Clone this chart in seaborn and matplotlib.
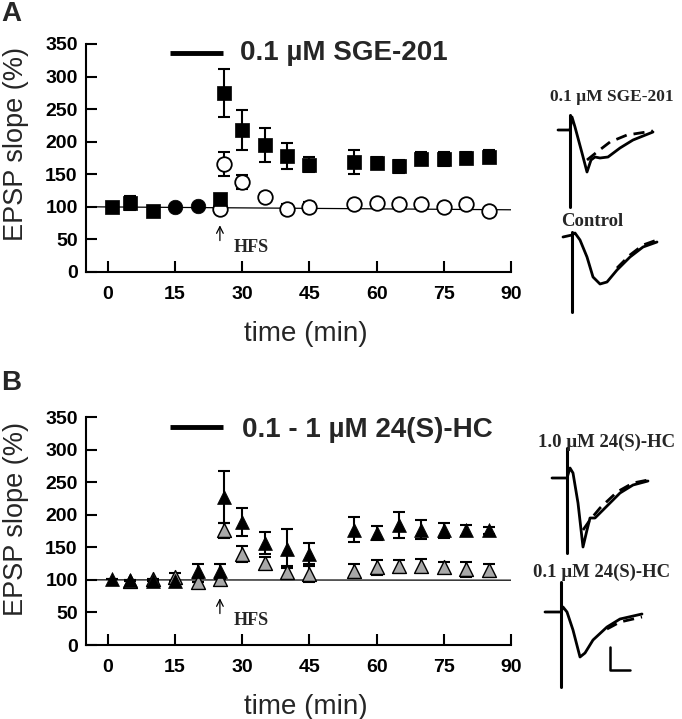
import numpy as np
import pandas as pd
import matplotlib
matplotlib.use("Agg")
import matplotlib.pyplot as plt
import seaborn as sns

# ---- panel A: 0.1 uM SGE-201 ----
sge_t = [1, 5, 10, 25, 26, 30, 35, 40, 45, 55, 60, 65, 70, 75, 80, 85]
sge_y = [100, 106, 94, 112, 275, 218, 195, 178, 165, 169, 168, 162, 174, 173, 175, 177]
sge_err = [0, 11, 0, 0, 37, 31, 26, 20, 12, 19, 9, 10, 10, 11, 9, 10]

ctrl_base_t = [15, 20]
ctrl_base_y = [100, 102]

ctrl_t = [25, 26, 30, 35, 40, 45, 55, 60, 65, 70, 75, 80, 85]
ctrl_y = [97, 166, 138, 115, 97, 100, 105, 106, 105, 104, 100, 104, 93]
ctrl_err = [0, 18, 11, 6, 8, 8, 0, 0, 0, 0, 0, 0, 0]

# ---- panel B: 24(S)-HC ----
hc1_t = [1, 5, 10, 15, 20, 25, 26, 30, 35, 40, 45, 55, 60, 65, 70, 75, 80, 85]
hc1_y = [101, 100, 98, 98, 114, 114, 227, 189, 157, 148, 140, 177, 172, 184, 177, 176, 176, 176]
hc1_err = [0, 0, 0, 0, 11, 11, 40, 22, 17, 30, 16, 19, 11, 20, 15, 11, 8, 5]

hc01_t = [5, 10, 15, 20, 25, 26, 30, 35, 40, 45, 55, 60, 65, 70, 75, 80, 85]
hc01_y = [98, 101, 105, 96, 101, 176, 140, 126, 112, 109, 114, 119, 121, 122, 119, 116, 115]
hc01_err = [0, 0, 6, 0, 0, 12, 12, 9, 10, 13, 11, 12, 10, 10, 9, 12, 10]

x_ticks = [0, 15, 30, 45, 60, 75, 90]
y_ticks = [0, 50, 100, 150, 200, 250, 300, 350]

# example EPSP traces (figure pixel units)
sge_sol_x = [558, 570, 572, 575, 582, 587, 591, 595, 600, 608, 620, 633, 653]
sge_sol_y = [130, 130, 117, 127, 153, 172, 160, 157, 158, 157, 148, 140, 132]
sge_dash_x = [587, 597, 610, 627, 653]
sge_dash_y = [160, 152, 142, 135, 131]
con_sol_x = [563, 572, 575, 580, 587, 593, 600, 607, 617, 630, 643, 657]
con_sol_y = [237, 235, 233, 240, 257, 277, 284, 282, 270, 257, 247, 242]
con_dash_x = [617, 630, 643, 657]
con_dash_y = [268, 255, 245, 240]
hc1_sol_x = [552, 567, 570, 573, 578, 583, 587, 590, 595, 603, 620, 633, 648]
hc1_sol_y = [478, 478, 468, 473, 503, 547, 530, 518, 518, 510, 493, 485, 481]
hc1_dash_x = [583, 590, 600, 617, 633, 648]
hc1_dash_y = [530, 520, 508, 492, 483, 480]
hc01_sol_x = [545, 561, 563, 567, 573, 580, 585, 593, 607, 620, 642]
hc01_sol_y = [612, 612, 607, 612, 630, 657, 653, 640, 627, 619, 614]
hc01_dash_x = [607, 620, 642]
hc01_dash_y = [629, 622, 617]

sns.set_theme(style="ticks")
plt.rcParams["font.family"] = ["Liberation Sans", "DejaVu Sans"]

fig = plt.figure(figsize=(6.82, 7.19), dpi=100)

# overlay for traces
ovl = fig.add_axes([0, 0, 1, 1])
ovl.set_xlim(0, 682)
ovl.set_ylim(719, 0)
ovl.axis("off")
lk = dict(color="black", lw=2)
ovl.plot(sge_sol_x, sge_sol_y, **lk)
ovl.plot(sge_dash_x, sge_dash_y, ls=(0, (4, 2.5)), **lk)
ovl.plot([570, 570], [115, 207], color="black", lw=2.2)
ovl.plot(con_sol_x, con_sol_y, **lk)
ovl.plot(con_dash_x, con_dash_y, ls=(0, (4, 2.5)), **lk)
ovl.plot([572, 572], [232, 312], color="black", lw=2.2)
ovl.plot(hc1_sol_x, hc1_sol_y, **lk)
ovl.plot(hc1_dash_x, hc1_dash_y, ls=(0, (4, 2.5)), **lk)
ovl.plot([567, 567], [448, 553], color="black", lw=2.2)
ovl.plot(hc01_sol_x, hc01_sol_y, **lk)
ovl.plot(hc01_dash_x, hc01_dash_y, ls=(0, (4, 2.5)), **lk)
ovl.plot([561, 561], [582, 687], color="black", lw=2.2)
ovl.plot([610, 610, 630], [647, 670, 670], color="black", lw=1.8)
serif = ["Liberation Serif", "DejaVu Serif"]
ovl.text(612, 97, "0.1 µM SGE-201", family=serif, weight="bold", fontsize=12.5, ha="center", va="center")
ovl.text(592, 221, "Control", family=serif, weight="bold", fontsize=13.5, ha="center", va="center")
ovl.text(607, 442, "1.0 µM 24(S)-HC", family=serif, weight="bold", fontsize=13.5, ha="center", va="center")
ovl.text(602, 572, "0.1 µM 24(S)-HC", family=serif, weight="bold", fontsize=13.5, ha="center", va="center")

axA = fig.add_axes([86 / 682, 1 - 272 / 719, 425 / 682, 228 / 719])
axB = fig.add_axes([86 / 682, 1 - 645 / 719, 425 / 682, 228 / 719])

eb = dict(fmt="none", ecolor="black", elinewidth=1.5, capsize=4, capthick=1.5, zorder=2)

# panel A
axA.plot([-2.5, 90], [100, 95.5], color="black", lw=0.9, zorder=1)
axA.errorbar(sge_t, sge_y, yerr=sge_err, **eb)
axA.errorbar(ctrl_t, ctrl_y, yerr=ctrl_err, **eb)
sns.scatterplot(x=ctrl_t, y=ctrl_y, ax=axA, marker="o", s=110, color="white",
                edgecolor="black", linewidth=1.3, zorder=3)
sns.scatterplot(x=sge_t, y=sge_y, ax=axA, marker="s", s=90, color="black",
                edgecolor="black", linewidth=0.5, zorder=4)
sns.scatterplot(x=ctrl_base_t, y=ctrl_base_y, ax=axA, marker="o", s=110, color="black",
                edgecolor="black", linewidth=0.5, zorder=4)
axA.plot([13.8, 25.6], [336, 336], color="black", lw=3.5, solid_capstyle="butt")
axA.text(29.5, 336, "0.1 µM SGE-201", fontsize=20, weight="bold", va="center", ha="left")

# panel B
axB.plot([-3, 90], [100, 99.5], color="black", lw=0.9, zorder=1)
axB.errorbar(hc1_t, hc1_y, yerr=hc1_err, **eb)
axB.errorbar(hc01_t, hc01_y, yerr=hc01_err, **eb)
sns.scatterplot(x=hc01_t, y=hc01_y, ax=axB, marker="^", s=100, color="#a8a8a8",
                edgecolor="black", linewidth=1.0, zorder=3)
sns.scatterplot(x=hc1_t, y=hc1_y, ax=axB, marker="^", s=100, color="black",
                edgecolor="black", linewidth=0.5, zorder=4)
axB.plot([13.8, 25.6], [334, 334], color="black", lw=3.5, solid_capstyle="butt")
axB.text(30, 330, "0.1 - 1 µM 24(S)-HC", fontsize=20, weight="bold", va="center", ha="left")

for ax, ycen in [(axA, 0.56), (axB, 0.553)]:
    ax.set_xlim(-4.9, 90)
    ax.set_ylim(0, 350)
    ax.set_xticks(x_ticks)
    ax.set_yticks(y_ticks)
    sns.despine(ax=ax)
    for s in ["left", "bottom"]:
        ax.spines[s].set_linewidth(1.5)
        ax.spines[s].set_color("black")
    ax.tick_params(axis="both", direction="in", length=8, width=1.5, colors="black",
                   labelsize=14)
    ax.tick_params(axis="x", pad=10)
    ax.tick_params(axis="y", pad=6)
    for lab in ax.get_xticklabels() + ax.get_yticklabels():
        lab.set_fontweight("bold")
    ax.set_xlabel("time (min)", fontsize=20)
    ax.set_ylabel("EPSP slope (%)", fontsize=19.5)
    ax.xaxis.set_label_coords(0.518, -0.215)
    ax.yaxis.set_label_coords(-0.135, ycen)
    ax.set_facecolor("none")
    # HFS marker
    ax.annotate("", xy=(25, 76), xytext=(25, 44),
                arrowprops=dict(arrowstyle="->", color="black", lw=0.9))
    ax.text(28, 38, "HFS", family=serif, weight="bold", fontsize=13, va="center", ha="left")

fig.text(0.002, 1 - 1 / 719, "A", fontsize=20, weight="bold", va="top", ha="left")
fig.text(0.002, 1 - 370 / 719, "B", fontsize=20, weight="bold", va="top", ha="left")

fig.savefig("out.png", dpi=100, facecolor="white")
